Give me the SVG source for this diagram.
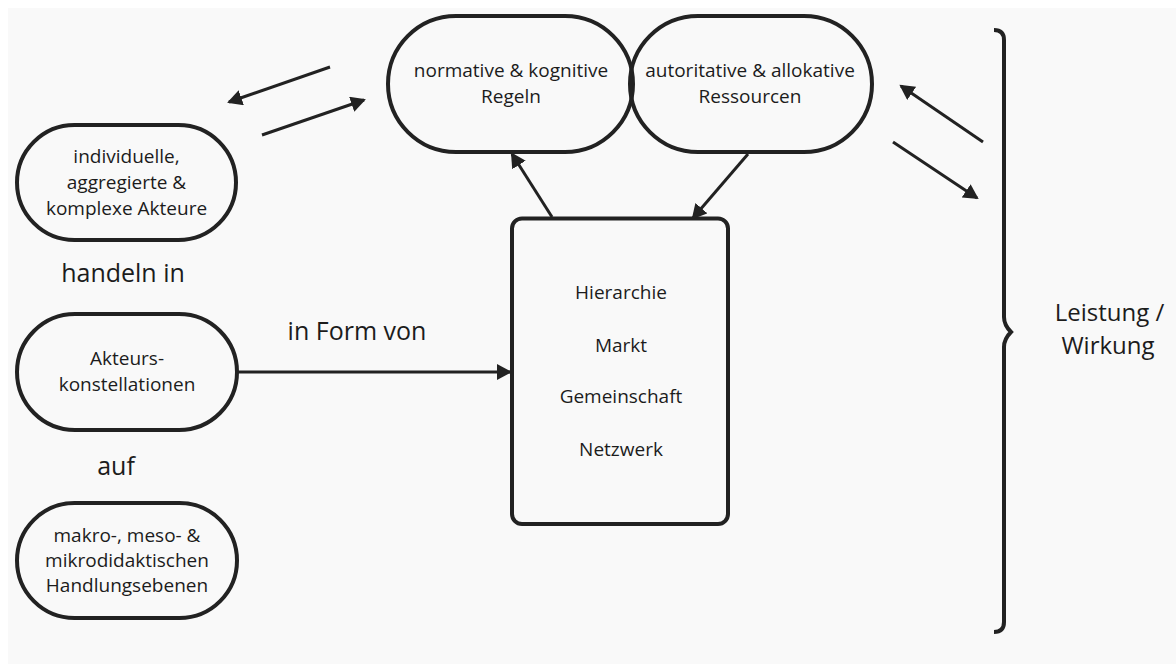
<svg xmlns="http://www.w3.org/2000/svg" width="1176" height="664" viewBox="0 0 1176 664">
  <style>
    .shape { fill: none; stroke: #222222; stroke-width: 4; }
    .conn { fill: none; stroke: #222222; stroke-width: 3; }
    .t { font-family: "Open Sans", "Liberation Sans", sans-serif; font-size: 19px; fill: #1c1c1c; text-anchor: middle; }
    .big { font-family: "Open Sans", "Liberation Sans", sans-serif; font-size: 25px; fill: #1c1c1c; text-anchor: middle; }
    .side { font-family: "Open Sans", "Liberation Sans", sans-serif; font-size: 24px; fill: #1c1c1c; text-anchor: middle; }
  </style>
  <defs>
    <marker id="arrow" markerUnits="userSpaceOnUse" markerWidth="16" markerHeight="17" refX="13" refY="8" orient="auto">
      <path d="M0,0 L15,8 L0,16 z" fill="#222222"/>
    </marker>
  </defs>
  <rect x="0" y="0" width="1176" height="664" fill="#ffffff"/>
  <rect x="8" y="8" width="1168" height="656" fill="#f9f9f9"/>

  <g id="node-akteure">
    <rect class="shape" x="17" y="125" width="219" height="115" rx="57.5"/>
    <text class="t" x="126.5" y="163">individuelle,</text>
    <text class="t" x="126.5" y="189">aggregierte &amp;</text>
    <text class="t" x="126.5" y="215">komplexe Akteure</text>
  </g>
  <g id="label-handeln">
    <text class="big" x="123" y="282">handeln in</text>
  </g>
  <g id="node-konstellationen">
    <rect class="shape" x="17" y="314" width="220" height="116" rx="58"/>
    <text class="t" x="127" y="365">Akteurs-</text>
    <text class="t" x="127" y="391">konstellationen</text>
  </g>
  <g id="label-auf">
    <text class="big" x="116" y="475">auf</text>
  </g>
  <g id="node-ebenen">
    <rect class="shape" x="17" y="503" width="220" height="115" rx="57.5"/>
    <text class="t" x="127" y="542">makro-, meso- &amp;</text>
    <text class="t" x="127" y="567">mikrodidaktischen</text>
    <text class="t" x="127" y="592">Handlungsebenen</text>
  </g>
  <g id="node-regeln">
    <rect class="shape" x="388" y="16" width="245" height="136" rx="68"/>
    <text class="t" x="511" y="77">normative &amp; kognitive</text>
    <text class="t" x="511" y="103">Regeln</text>
  </g>
  <g id="node-ressourcen">
    <rect class="shape" x="630" y="16" width="242" height="136" rx="68"/>
    <text class="t" x="750" y="77">autoritative &amp; allokative</text>
    <text class="t" x="750" y="103">Ressourcen</text>
  </g>
  <g id="node-formen">
    <rect class="shape" x="512" y="218.5" width="216" height="305.5" rx="10"/>
    <text class="t" x="621" y="299">Hierarchie</text>
    <text class="t" x="621" y="352">Markt</text>
    <text class="t" x="621" y="403">Gemeinschaft</text>
    <text class="t" x="621" y="456">Netzwerk</text>
  </g>
  <g id="label-form">
    <text class="big" x="357" y="340">in Form von</text>
  </g>
  <g id="bracket">
    <path class="shape" d="M994,30 Q1004,30 1004,40 L1004,317 Q1004,325 1011,332 Q1004,339 1004,347 L1004,622 Q1004,632 994,632"/>
  </g>
  <g id="label-leistung">
    <text class="side" x="1109.5" y="321">Leistung /</text>
    <text class="side" x="1108" y="354">Wirkung</text>
  </g>

  <g id="connectors">
    <line class="conn" x1="330" y1="67" x2="229" y2="102" marker-end="url(#arrow)"/>
    <line class="conn" x1="262" y1="135" x2="364" y2="100" marker-end="url(#arrow)"/>
    <line class="conn" x1="238" y1="372" x2="510" y2="372" marker-end="url(#arrow)"/>
    <line class="conn" x1="552" y1="217" x2="512" y2="154" marker-end="url(#arrow)"/>
    <line class="conn" x1="748" y1="154" x2="693" y2="218" marker-end="url(#arrow)"/>
    <line class="conn" x1="983" y1="142" x2="901" y2="86" marker-end="url(#arrow)"/>
    <line class="conn" x1="893" y1="142" x2="977" y2="198" marker-end="url(#arrow)"/>
  </g>
</svg>
